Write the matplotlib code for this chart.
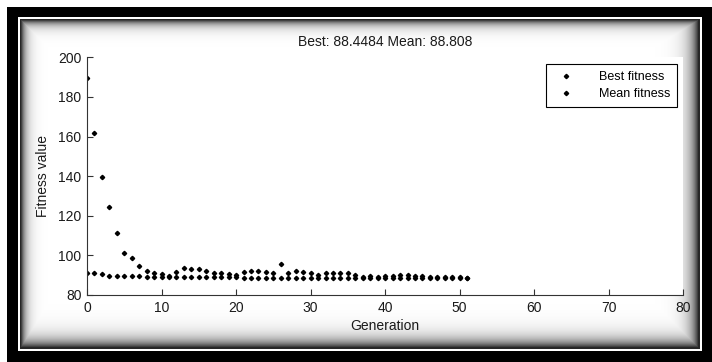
import numpy as np
import matplotlib
matplotlib.use('Agg')
import matplotlib.pyplot as plt

# Data (generation 0..51)
generation = list(range(52))
mean_fitness = [189.5, 161.8, 139.5, 124.2, 111.1, 101.0, 98.5, 94.8, 92.1, 91.0,
                90.6, 89.6, 91.5, 93.6, 93.1, 93.1, 92.3, 91.3, 91.0, 90.6,
                90.1, 91.6, 91.9, 91.9, 91.6, 91.3, 95.5, 91.3, 92.1, 91.6,
                91.0, 90.1, 91.0, 91.0, 91.0, 91.0, 90.1, 89.3, 89.6, 89.1,
                89.4, 89.4, 89.9, 89.9, 89.6, 89.4, 89.1, 89.1, 89.1, 89.1,
                89.1, 88.808]
best_fitness = [90.9, 90.9, 90.4, 89.5, 89.5, 89.5, 89.5, 89.5, 88.9, 88.9,
                88.9, 88.9, 88.9, 88.9, 88.9, 88.9, 88.9, 88.9, 88.9, 88.9,
                88.9, 88.7, 88.7, 88.7, 88.7, 88.7, 88.7, 88.7, 88.7, 88.7,
                88.7, 88.7, 88.7, 88.7, 88.7, 88.7, 88.7, 88.7, 88.7, 88.7,
                88.7, 88.5, 88.5, 88.5, 88.5, 88.5, 88.5, 88.5, 88.5, 88.5,
                88.5, 88.4484]
title_text = 'Best: 88.4484 Mean: 88.808'

plt.rcParams['font.family'] = ['Liberation Sans', 'DejaVu Sans']

W, H = 712, 362
fig = plt.figure(figsize=(W / 100, H / 100), dpi=100, facecolor='white')

# framed background: black border, thin white line, shaded inner panel
yy, xx = np.mgrid[0:H, 0:W]
bg = np.ones((H, W))
bg[(xx >= 7) & (yy >= 7)] = 0.0
bg[(xx >= 18) & (xx < 702) & (yy >= 17) & (yy < 351)] = 1.0
inner = (xx >= 21) & (xx < 699) & (yy >= 20) & (yy < 348)
bg[(xx >= 20) & (xx < 700) & (yy >= 19) & (yy < 349)] = 0.15
shade = np.minimum.reduce([
    1 - 0.75 * np.exp(-(xx - 21) / 5.0),
    1 - 0.75 * np.exp(-(yy - 20) / 5.0),
    1 - 0.85 * np.exp(-(698 - xx) / 8.0),
    1 - 0.85 * np.exp(-(347 - yy) / 8.0),
])
bg[inner] = shade[inner]
bax = fig.add_axes([0, 0, 1, 1], zorder=0)
bax.imshow(bg, cmap='gray', vmin=0, vmax=1, aspect='auto', interpolation='nearest')
bax.axis('off')

ax = fig.add_axes([87 / W, 1 - 295 / H, (683.3 - 87) / W, (295 - 57.3) / H], zorder=1)
ax.set_facecolor('white')
ax.plot(generation, best_fitness, linestyle='none', marker='D', ms=2.2,
        color='black', label='Best fitness')
ax.plot(generation, mean_fitness, linestyle='none', marker='D', ms=2.2,
        color='black', label='Mean fitness')

ax.set_xlim(0, 80)
ax.set_ylim(80, 200)
ax.set_xticks(np.arange(0, 81, 10))
ax.set_yticks(np.arange(80, 201, 20))
for s in ['top', 'right']:
    ax.spines[s].set_visible(False)
for s in ['left', 'bottom']:
    ax.spines[s].set_color('#333333')
    ax.spines[s].set_linewidth(0.8)
ax.tick_params(direction='in', length=4.5, width=0.8, color='#333333',
               labelsize=10, labelcolor='#1a1a1a', pad=4)
ax.set_xlabel('Generation', fontsize=10, color='#1a1a1a', labelpad=3)
ax.set_ylabel('Fitness value', fontsize=10, color='#1a1a1a', labelpad=6)
ax.set_title(title_text, fontsize=10, color='#1a1a1a', pad=8)

leg = ax.legend(loc='upper right', bbox_to_anchor=(0.9894, 0.9718), borderaxespad=0,
                fontsize=9, fancybox=False, framealpha=1, edgecolor='black',
                handlelength=2.2, handletextpad=1.5, borderpad=0.55, labelspacing=0.4)
leg.get_frame().set_linewidth(0.8)

fig.savefig('out.png', dpi=100, facecolor='white')
